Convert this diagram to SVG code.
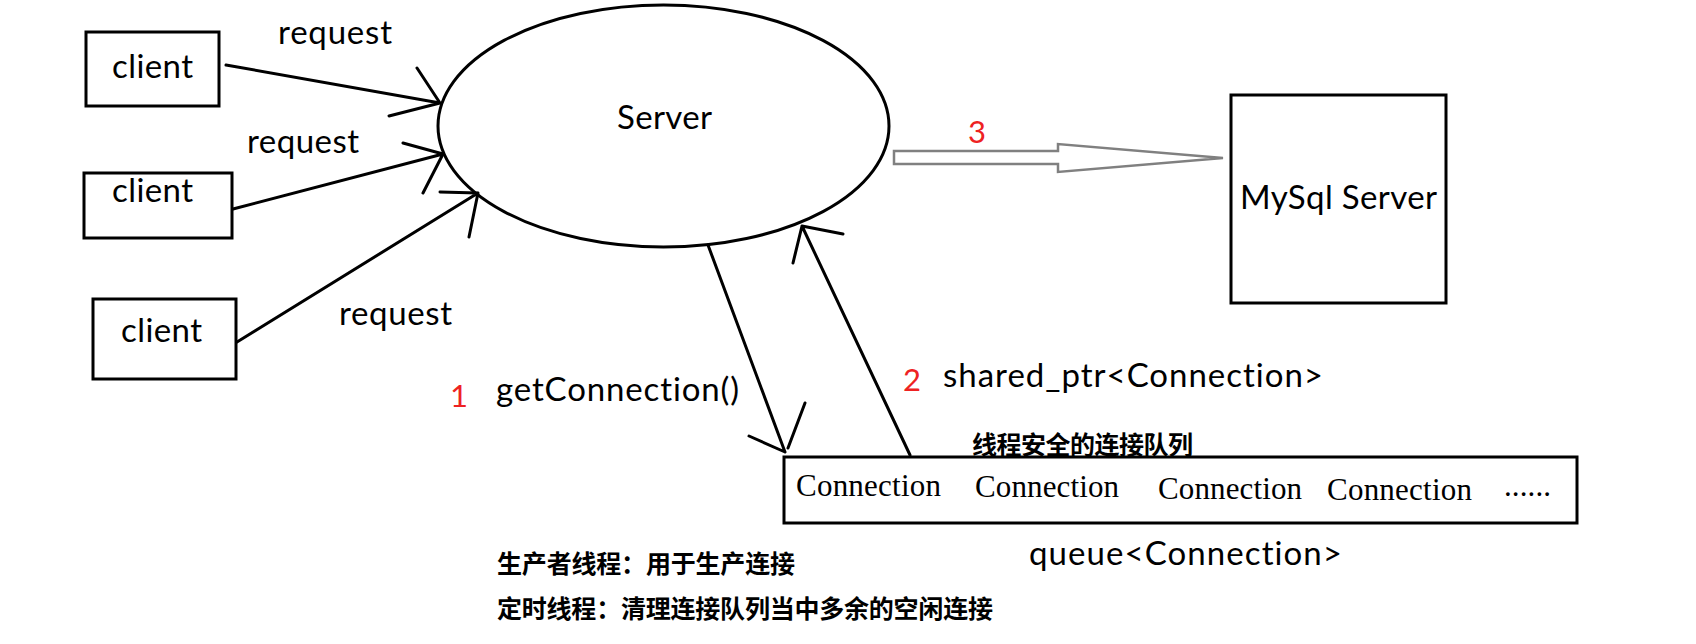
<svg xmlns="http://www.w3.org/2000/svg" width="1696" height="644" viewBox="0 0 1696 644">
<style>
.bg{fill:#fff}
.box{fill:#fff;stroke:#000;stroke-width:3}
.ln{fill:none;stroke:#000;stroke-width:3;stroke-linecap:round;stroke-linejoin:round}
.t{font-family:Lato,"Open Sans","Noto Sans",sans-serif;font-size:33px;fill:#000;font-variant-ligatures:none;font-feature-settings:"liga" 0,"clig" 0}
.num{font-family:Lato,"Open Sans","Noto Sans",sans-serif;font-size:31px;fill:#ee2222}
.serif{font-family:"Liberation Serif",serif;font-size:31px;fill:#000;font-variant-ligatures:none}
.cjk{font-family:"Noto Sans CJK SC","Noto Sans",sans-serif;font-weight:700;font-size:25px;fill:#000}
.hollow{fill:#fff;stroke:#808080;stroke-width:2.5;stroke-linejoin:miter}
</style>
<rect class="bg" x="0" y="0" width="1696" height="644"/>

<g id="client1">
<rect class="box" x="86" y="32" width="133" height="74"/>
<text class="t" x="112" y="78" textLength="81">client</text>
</g>
<g id="client2">
<rect class="box" x="84" y="173" width="148" height="65"/>
<text class="t" x="112" y="202" textLength="81">client</text>
</g>
<g id="client3">
<rect class="box" x="93" y="299" width="143" height="80"/>
<text class="t" x="121" y="342" textLength="81">client</text>
</g>
<g id="server">
<ellipse class="box" cx="663.5" cy="126" rx="225.5" ry="121"/>
<text class="t" x="617" y="129" textLength="95">Server</text>
</g>
<g id="mysql">
<rect class="box" x="1231" y="95" width="215" height="208"/>
<text class="t" x="1240" y="209" textLength="197">MySql Server</text>
</g>
<g id="queue">
<rect class="box" x="784" y="457" width="793" height="66"/>
<text class="serif" x="796" y="496" textLength="145">Connection</text>
<text class="serif" x="975" y="497" textLength="144">Connection</text>
<text class="serif" x="1158" y="499" textLength="144">Connection</text>
<text class="serif" x="1327" y="500" textLength="145">Connection</text>
<text class="serif" x="1504" y="496" textLength="47">......</text>
<text class="cjk" x="972" y="454" textLength="221">线程安全的连接队列</text>
<text class="t" x="1029" y="565" textLength="313">queue&lt;Connection&gt;</text>
</g>

<g id="connectors">
<path class="ln" d="M226,65 L440,103 M417,68 L440,103 L389,116"/>
<path class="ln" d="M233,209 L443,154 M403,143 L443,154 L423,193"/>
<path class="ln" d="M237,342 L478,193 M440,192 L478,193 L469,237"/>
<path class="ln" d="M708,245 L785,452 M749,436 L785,452 M788,448 L805,403"/>
<path class="ln" d="M910,455 L802,226 M793,263 L802,226 L843,234"/>
<polygon class="hollow" points="894,151 1058,151 1058,144 1223,158 1058,172 1058,164 894,164"/>
</g>

<g id="labels">
<text class="t" x="278" y="44" textLength="114">request</text>
<text class="t" x="247" y="153" textLength="112">request</text>
<text class="t" x="339" y="325" textLength="113">request</text>
<text class="num" x="968" y="143">3</text>
<text class="num" x="450" y="407">1</text>
<text class="t" x="496" y="401" textLength="243">getConnection()</text>
<text class="num" x="903" y="391">2</text>
<text class="t" x="943" y="387" textLength="380">shared_ptr&lt;Connection&gt;</text>
<text class="cjk" x="497" y="573" textLength="298">生产者线程：用于生产连接</text>
<text class="cjk" x="497" y="618" textLength="496">定时线程：清理连接队列当中多余的空闲连接</text>
</g>
</svg>
